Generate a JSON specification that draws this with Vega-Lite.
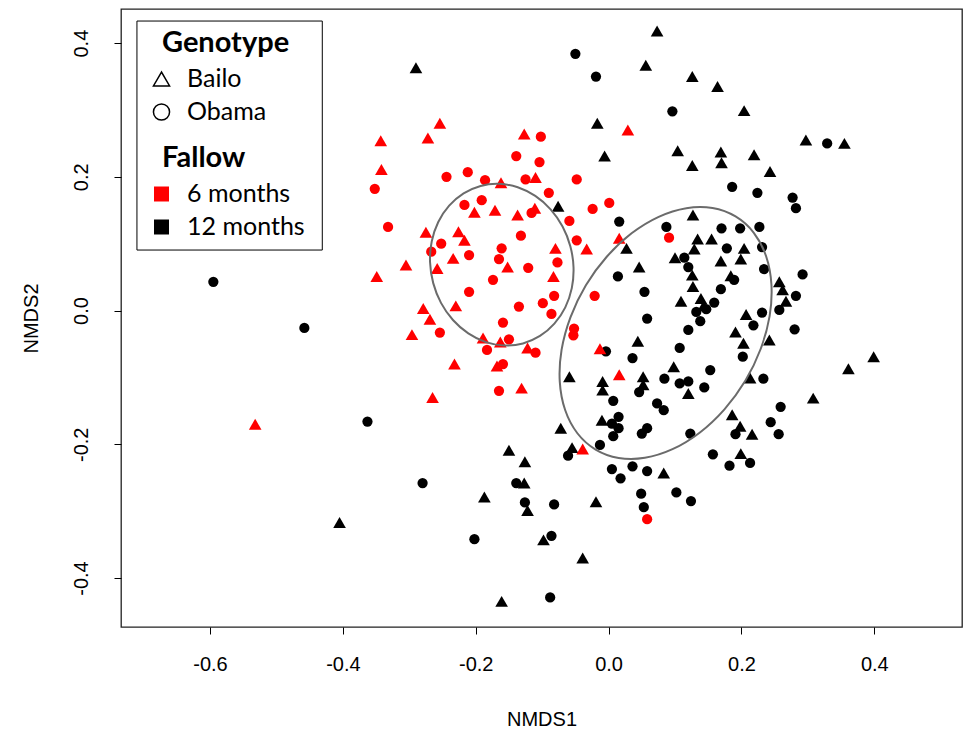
{
"$schema":"https://vega.github.io/schema/vega-lite/v6.json",
"width":841,"height":618,"autosize":"none",
"padding":{"left":121,"top":9,"right":2,"bottom":111},
"background":"white",
"config":{"view":{"stroke":"#222","strokeWidth":1.3},
"axis":{"domain":false,"grid":false,"tickColor":"black","tickSize":7,"tickWidth":1,"labelFont":"Liberation Sans","labelFontSize":20,"labelColor":"black","titleFont":"Liberation Sans","titleFontSize":20,"titleFontWeight":"normal","titleColor":"black","labelBound":false,"labelOverlap":false}},
"datasets":{
"pts":[
{"NMDS1":-0.290,"NMDS2":0.363,"Genotype":"Bailo","Fallow":"12 months"},{"NMDS1":0.073,"NMDS2":0.418,"Genotype":"Bailo","Fallow":"12 months"},{"NMDS1":0.056,"NMDS2":0.367,"Genotype":"Bailo","Fallow":"12 months"},{"NMDS1":0.126,"NMDS2":0.350,"Genotype":"Bailo","Fallow":"12 months"},{"NMDS1":0.164,"NMDS2":0.335,"Genotype":"Bailo","Fallow":"12 months"},{"NMDS1":0.204,"NMDS2":0.299,"Genotype":"Bailo","Fallow":"12 months"},{"NMDS1":-0.017,"NMDS2":0.280,"Genotype":"Bailo","Fallow":"12 months"},{"NMDS1":-0.006,"NMDS2":0.231,"Genotype":"Bailo","Fallow":"12 months"},{"NMDS1":0.104,"NMDS2":0.239,"Genotype":"Bailo","Fallow":"12 months"},{"NMDS1":0.169,"NMDS2":0.237,"Genotype":"Bailo","Fallow":"12 months"},{"NMDS1":0.126,"NMDS2":0.217,"Genotype":"Bailo","Fallow":"12 months"},{"NMDS1":0.170,"NMDS2":0.221,"Genotype":"Bailo","Fallow":"12 months"},{"NMDS1":0.219,"NMDS2":0.233,"Genotype":"Bailo","Fallow":"12 months"},{"NMDS1":0.243,"NMDS2":0.208,"Genotype":"Bailo","Fallow":"12 months"},{"NMDS1":0.297,"NMDS2":0.255,"Genotype":"Bailo","Fallow":"12 months"},{"NMDS1":0.355,"NMDS2":0.250,"Genotype":"Bailo","Fallow":"12 months"},{"NMDS1":-0.076,"NMDS2":0.156,"Genotype":"Bailo","Fallow":"12 months"},{"NMDS1":0.127,"NMDS2":0.143,"Genotype":"Bailo","Fallow":"12 months"},{"NMDS1":0.027,"NMDS2":0.093,"Genotype":"Bailo","Fallow":"12 months"},{"NMDS1":0.134,"NMDS2":0.107,"Genotype":"Bailo","Fallow":"12 months"},{"NMDS1":0.155,"NMDS2":0.107,"Genotype":"Bailo","Fallow":"12 months"},{"NMDS1":0.129,"NMDS2":0.092,"Genotype":"Bailo","Fallow":"12 months"},{"NMDS1":0.204,"NMDS2":0.093,"Genotype":"Bailo","Fallow":"12 months"},{"NMDS1":0.100,"NMDS2":0.079,"Genotype":"Bailo","Fallow":"12 months"},{"NMDS1":0.169,"NMDS2":0.074,"Genotype":"Bailo","Fallow":"12 months"},{"NMDS1":0.199,"NMDS2":0.077,"Genotype":"Bailo","Fallow":"12 months"},{"NMDS1":0.046,"NMDS2":0.065,"Genotype":"Bailo","Fallow":"12 months"},{"NMDS1":0.126,"NMDS2":0.053,"Genotype":"Bailo","Fallow":"12 months"},{"NMDS1":0.184,"NMDS2":0.052,"Genotype":"Bailo","Fallow":"12 months"},{"NMDS1":0.127,"NMDS2":0.036,"Genotype":"Bailo","Fallow":"12 months"},{"NMDS1":0.109,"NMDS2":0.014,"Genotype":"Bailo","Fallow":"12 months"},{"NMDS1":0.139,"NMDS2":0.018,"Genotype":"Bailo","Fallow":"12 months"},{"NMDS1":0.143,"NMDS2":0.007,"Genotype":"Bailo","Fallow":"12 months"},{"NMDS1":0.207,"NMDS2":-0.006,"Genotype":"Bailo","Fallow":"12 months"},{"NMDS1":0.191,"NMDS2":-0.032,"Genotype":"Bailo","Fallow":"12 months"},{"NMDS1":0.203,"NMDS2":-0.049,"Genotype":"Bailo","Fallow":"12 months"},{"NMDS1":0.044,"NMDS2":-0.046,"Genotype":"Bailo","Fallow":"12 months"},{"NMDS1":0.098,"NMDS2":-0.084,"Genotype":"Bailo","Fallow":"12 months"},{"NMDS1":-0.059,"NMDS2":-0.099,"Genotype":"Bailo","Fallow":"12 months"},{"NMDS1":0.052,"NMDS2":-0.099,"Genotype":"Bailo","Fallow":"12 months"},{"NMDS1":-0.009,"NMDS2":-0.106,"Genotype":"Bailo","Fallow":"12 months"},{"NMDS1":-0.009,"NMDS2":-0.119,"Genotype":"Bailo","Fallow":"12 months"},{"NMDS1":0.120,"NMDS2":-0.124,"Genotype":"Bailo","Fallow":"12 months"},{"NMDS1":0.052,"NMDS2":-0.111,"Genotype":"Bailo","Fallow":"12 months"},{"NMDS1":0.186,"NMDS2":-0.156,"Genotype":"Bailo","Fallow":"12 months"},{"NMDS1":-0.010,"NMDS2":-0.164,"Genotype":"Bailo","Fallow":"12 months"},{"NMDS1":-0.072,"NMDS2":-0.176,"Genotype":"Bailo","Fallow":"12 months"},{"NMDS1":0.198,"NMDS2":-0.173,"Genotype":"Bailo","Fallow":"12 months"},{"NMDS1":0.257,"NMDS2":0.043,"Genotype":"Bailo","Fallow":"12 months"},{"NMDS1":0.262,"NMDS2":0.031,"Genotype":"Bailo","Fallow":"12 months"},{"NMDS1":0.267,"NMDS2":0.014,"Genotype":"Bailo","Fallow":"12 months"},{"NMDS1":0.242,"NMDS2":-0.044,"Genotype":"Bailo","Fallow":"12 months"},{"NMDS1":0.399,"NMDS2":-0.069,"Genotype":"Bailo","Fallow":"12 months"},{"NMDS1":0.361,"NMDS2":-0.087,"Genotype":"Bailo","Fallow":"12 months"},{"NMDS1":0.213,"NMDS2":-0.101,"Genotype":"Bailo","Fallow":"12 months"},{"NMDS1":0.308,"NMDS2":-0.131,"Genotype":"Bailo","Fallow":"12 months"},{"NMDS1":0.216,"NMDS2":-0.185,"Genotype":"Bailo","Fallow":"12 months"},{"NMDS1":-0.055,"NMDS2":-0.205,"Genotype":"Bailo","Fallow":"12 months"},{"NMDS1":0.083,"NMDS2":-0.243,"Genotype":"Bailo","Fallow":"12 months"},{"NMDS1":0.199,"NMDS2":-0.214,"Genotype":"Bailo","Fallow":"12 months"},{"NMDS1":-0.019,"NMDS2":-0.286,"Genotype":"Bailo","Fallow":"12 months"},{"NMDS1":-0.098,"NMDS2":-0.343,"Genotype":"Bailo","Fallow":"12 months"},{"NMDS1":-0.039,"NMDS2":-0.370,"Genotype":"Bailo","Fallow":"12 months"},{"NMDS1":-0.150,"NMDS2":-0.209,"Genotype":"Bailo","Fallow":"12 months"},{"NMDS1":-0.126,"NMDS2":-0.226,"Genotype":"Bailo","Fallow":"12 months"},{"NMDS1":-0.127,"NMDS2":-0.258,"Genotype":"Bailo","Fallow":"12 months"},{"NMDS1":-0.187,"NMDS2":-0.279,"Genotype":"Bailo","Fallow":"12 months"},{"NMDS1":-0.122,"NMDS2":-0.299,"Genotype":"Bailo","Fallow":"12 months"},{"NMDS1":-0.405,"NMDS2":-0.317,"Genotype":"Bailo","Fallow":"12 months"},{"NMDS1":-0.161,"NMDS2":-0.435,"Genotype":"Bailo","Fallow":"12 months"},
{"NMDS1":-0.595,"NMDS2":0.043,"Genotype":"Obama","Fallow":"12 months"},{"NMDS1":-0.458,"NMDS2":-0.026,"Genotype":"Obama","Fallow":"12 months"},{"NMDS1":-0.363,"NMDS2":-0.166,"Genotype":"Obama","Fallow":"12 months"},{"NMDS1":-0.050,"NMDS2":0.384,"Genotype":"Obama","Fallow":"12 months"},{"NMDS1":-0.019,"NMDS2":0.350,"Genotype":"Obama","Fallow":"12 months"},{"NMDS1":0.096,"NMDS2":0.298,"Genotype":"Obama","Fallow":"12 months"},{"NMDS1":0.186,"NMDS2":0.185,"Genotype":"Obama","Fallow":"12 months"},{"NMDS1":0.329,"NMDS2":0.250,"Genotype":"Obama","Fallow":"12 months"},{"NMDS1":0.224,"NMDS2":0.176,"Genotype":"Obama","Fallow":"12 months"},{"NMDS1":0.277,"NMDS2":0.169,"Genotype":"Obama","Fallow":"12 months"},{"NMDS1":0.282,"NMDS2":0.153,"Genotype":"Obama","Fallow":"12 months"},{"NMDS1":0.016,"NMDS2":0.133,"Genotype":"Obama","Fallow":"12 months"},{"NMDS1":0.087,"NMDS2":0.125,"Genotype":"Obama","Fallow":"12 months"},{"NMDS1":0.170,"NMDS2":0.123,"Genotype":"Obama","Fallow":"12 months"},{"NMDS1":0.198,"NMDS2":0.123,"Genotype":"Obama","Fallow":"12 months"},{"NMDS1":0.178,"NMDS2":0.093,"Genotype":"Obama","Fallow":"12 months"},{"NMDS1":0.114,"NMDS2":0.079,"Genotype":"Obama","Fallow":"12 months"},{"NMDS1":0.120,"NMDS2":0.065,"Genotype":"Obama","Fallow":"12 months"},{"NMDS1":0.014,"NMDS2":0.051,"Genotype":"Obama","Fallow":"12 months"},{"NMDS1":0.189,"NMDS2":0.046,"Genotype":"Obama","Fallow":"12 months"},{"NMDS1":0.169,"NMDS2":0.032,"Genotype":"Obama","Fallow":"12 months"},{"NMDS1":0.054,"NMDS2":0.028,"Genotype":"Obama","Fallow":"12 months"},{"NMDS1":0.159,"NMDS2":0.012,"Genotype":"Obama","Fallow":"12 months"},{"NMDS1":0.132,"NMDS2":-0.002,"Genotype":"Obama","Fallow":"12 months"},{"NMDS1":0.147,"NMDS2":0.002,"Genotype":"Obama","Fallow":"12 months"},{"NMDS1":0.138,"NMDS2":-0.016,"Genotype":"Obama","Fallow":"12 months"},{"NMDS1":0.058,"NMDS2":-0.012,"Genotype":"Obama","Fallow":"12 months"},{"NMDS1":0.218,"NMDS2":-0.022,"Genotype":"Obama","Fallow":"12 months"},{"NMDS1":0.120,"NMDS2":-0.029,"Genotype":"Obama","Fallow":"12 months"},{"NMDS1":0.107,"NMDS2":-0.056,"Genotype":"Obama","Fallow":"12 months"},{"NMDS1":0.202,"NMDS2":-0.069,"Genotype":"Obama","Fallow":"12 months"},{"NMDS1":-0.004,"NMDS2":-0.061,"Genotype":"Obama","Fallow":"12 months"},{"NMDS1":0.036,"NMDS2":-0.071,"Genotype":"Obama","Fallow":"12 months"},{"NMDS1":0.153,"NMDS2":-0.089,"Genotype":"Obama","Fallow":"12 months"},{"NMDS1":0.084,"NMDS2":-0.102,"Genotype":"Obama","Fallow":"12 months"},{"NMDS1":0.107,"NMDS2":-0.109,"Genotype":"Obama","Fallow":"12 months"},{"NMDS1":0.120,"NMDS2":-0.106,"Genotype":"Obama","Fallow":"12 months"},{"NMDS1":0.144,"NMDS2":-0.115,"Genotype":"Obama","Fallow":"12 months"},{"NMDS1":0.046,"NMDS2":-0.122,"Genotype":"Obama","Fallow":"12 months"},{"NMDS1":0.007,"NMDS2":-0.135,"Genotype":"Obama","Fallow":"12 months"},{"NMDS1":0.073,"NMDS2":-0.139,"Genotype":"Obama","Fallow":"12 months"},{"NMDS1":0.083,"NMDS2":-0.149,"Genotype":"Obama","Fallow":"12 months"},{"NMDS1":0.015,"NMDS2":-0.159,"Genotype":"Obama","Fallow":"12 months"},{"NMDS1":0.227,"NMDS2":0.125,"Genotype":"Obama","Fallow":"12 months"},{"NMDS1":0.231,"NMDS2":0.095,"Genotype":"Obama","Fallow":"12 months"},{"NMDS1":0.234,"NMDS2":0.062,"Genotype":"Obama","Fallow":"12 months"},{"NMDS1":0.292,"NMDS2":0.054,"Genotype":"Obama","Fallow":"12 months"},{"NMDS1":0.282,"NMDS2":0.022,"Genotype":"Obama","Fallow":"12 months"},{"NMDS1":0.257,"NMDS2":0.001,"Genotype":"Obama","Fallow":"12 months"},{"NMDS1":0.231,"NMDS2":-0.003,"Genotype":"Obama","Fallow":"12 months"},{"NMDS1":0.280,"NMDS2":-0.028,"Genotype":"Obama","Fallow":"12 months"},{"NMDS1":0.233,"NMDS2":-0.102,"Genotype":"Obama","Fallow":"12 months"},{"NMDS1":0.259,"NMDS2":-0.144,"Genotype":"Obama","Fallow":"12 months"},{"NMDS1":0.244,"NMDS2":-0.167,"Genotype":"Obama","Fallow":"12 months"},{"NMDS1":0.256,"NMDS2":-0.185,"Genotype":"Obama","Fallow":"12 months"},{"NMDS1":0.005,"NMDS2":-0.169,"Genotype":"Obama","Fallow":"12 months"},{"NMDS1":0.015,"NMDS2":-0.176,"Genotype":"Obama","Fallow":"12 months"},{"NMDS1":0.007,"NMDS2":-0.188,"Genotype":"Obama","Fallow":"12 months"},{"NMDS1":0.050,"NMDS2":-0.184,"Genotype":"Obama","Fallow":"12 months"},{"NMDS1":0.058,"NMDS2":-0.176,"Genotype":"Obama","Fallow":"12 months"},{"NMDS1":0.123,"NMDS2":-0.184,"Genotype":"Obama","Fallow":"12 months"},{"NMDS1":0.191,"NMDS2":-0.185,"Genotype":"Obama","Fallow":"12 months"},{"NMDS1":-0.061,"NMDS2":-0.217,"Genotype":"Obama","Fallow":"12 months"},{"NMDS1":-0.013,"NMDS2":-0.201,"Genotype":"Obama","Fallow":"12 months"},{"NMDS1":0.005,"NMDS2":-0.237,"Genotype":"Obama","Fallow":"12 months"},{"NMDS1":0.018,"NMDS2":-0.251,"Genotype":"Obama","Fallow":"12 months"},{"NMDS1":0.036,"NMDS2":-0.233,"Genotype":"Obama","Fallow":"12 months"},{"NMDS1":0.058,"NMDS2":-0.240,"Genotype":"Obama","Fallow":"12 months"},{"NMDS1":0.157,"NMDS2":-0.215,"Genotype":"Obama","Fallow":"12 months"},{"NMDS1":0.182,"NMDS2":-0.232,"Genotype":"Obama","Fallow":"12 months"},{"NMDS1":0.213,"NMDS2":-0.228,"Genotype":"Obama","Fallow":"12 months"},{"NMDS1":0.049,"NMDS2":-0.274,"Genotype":"Obama","Fallow":"12 months"},{"NMDS1":0.053,"NMDS2":-0.294,"Genotype":"Obama","Fallow":"12 months"},{"NMDS1":0.102,"NMDS2":-0.272,"Genotype":"Obama","Fallow":"12 months"},{"NMDS1":0.124,"NMDS2":-0.285,"Genotype":"Obama","Fallow":"12 months"},{"NMDS1":-0.082,"NMDS2":-0.290,"Genotype":"Obama","Fallow":"12 months"},{"NMDS1":-0.086,"NMDS2":-0.337,"Genotype":"Obama","Fallow":"12 months"},{"NMDS1":-0.088,"NMDS2":-0.429,"Genotype":"Obama","Fallow":"12 months"},{"NMDS1":-0.139,"NMDS2":-0.258,"Genotype":"Obama","Fallow":"12 months"},{"NMDS1":-0.280,"NMDS2":-0.258,"Genotype":"Obama","Fallow":"12 months"},{"NMDS1":-0.126,"NMDS2":-0.287,"Genotype":"Obama","Fallow":"12 months"},{"NMDS1":-0.202,"NMDS2":-0.342,"Genotype":"Obama","Fallow":"12 months"},
{"NMDS1":-0.254,"NMDS2":0.280,"Genotype":"Bailo","Fallow":"6 months"},{"NMDS1":-0.343,"NMDS2":0.254,"Genotype":"Bailo","Fallow":"6 months"},{"NMDS1":-0.272,"NMDS2":0.258,"Genotype":"Bailo","Fallow":"6 months"},{"NMDS1":-0.342,"NMDS2":0.211,"Genotype":"Bailo","Fallow":"6 months"},{"NMDS1":-0.162,"NMDS2":0.191,"Genotype":"Bailo","Fallow":"6 months"},{"NMDS1":-0.127,"NMDS2":0.264,"Genotype":"Bailo","Fallow":"6 months"},{"NMDS1":-0.110,"NMDS2":0.199,"Genotype":"Bailo","Fallow":"6 months"},{"NMDS1":-0.202,"NMDS2":0.147,"Genotype":"Bailo","Fallow":"6 months"},{"NMDS1":-0.171,"NMDS2":0.150,"Genotype":"Bailo","Fallow":"6 months"},{"NMDS1":-0.137,"NMDS2":0.143,"Genotype":"Bailo","Fallow":"6 months"},{"NMDS1":-0.111,"NMDS2":0.153,"Genotype":"Bailo","Fallow":"6 months"},{"NMDS1":0.029,"NMDS2":0.270,"Genotype":"Bailo","Fallow":"6 months"},{"NMDS1":-0.275,"NMDS2":0.117,"Genotype":"Bailo","Fallow":"6 months"},{"NMDS1":-0.226,"NMDS2":0.118,"Genotype":"Bailo","Fallow":"6 months"},{"NMDS1":-0.217,"NMDS2":0.105,"Genotype":"Bailo","Fallow":"6 months"},{"NMDS1":-0.305,"NMDS2":0.068,"Genotype":"Bailo","Fallow":"6 months"},{"NMDS1":-0.234,"NMDS2":0.078,"Genotype":"Bailo","Fallow":"6 months"},{"NMDS1":-0.258,"NMDS2":0.063,"Genotype":"Bailo","Fallow":"6 months"},{"NMDS1":-0.349,"NMDS2":0.051,"Genotype":"Bailo","Fallow":"6 months"},{"NMDS1":-0.152,"NMDS2":0.065,"Genotype":"Bailo","Fallow":"6 months"},{"NMDS1":-0.230,"NMDS2":0.007,"Genotype":"Bailo","Fallow":"6 months"},{"NMDS1":-0.279,"NMDS2":0.003,"Genotype":"Bailo","Fallow":"6 months"},{"NMDS1":-0.269,"NMDS2":-0.013,"Genotype":"Bailo","Fallow":"6 months"},{"NMDS1":-0.296,"NMDS2":-0.036,"Genotype":"Bailo","Fallow":"6 months"},{"NMDS1":-0.189,"NMDS2":-0.041,"Genotype":"Bailo","Fallow":"6 months"},{"NMDS1":-0.163,"NMDS2":-0.047,"Genotype":"Bailo","Fallow":"6 months"},{"NMDS1":-0.122,"NMDS2":-0.056,"Genotype":"Bailo","Fallow":"6 months"},{"NMDS1":-0.232,"NMDS2":-0.080,"Genotype":"Bailo","Fallow":"6 months"},{"NMDS1":-0.168,"NMDS2":-0.083,"Genotype":"Bailo","Fallow":"6 months"},{"NMDS1":-0.131,"NMDS2":-0.116,"Genotype":"Bailo","Fallow":"6 months"},{"NMDS1":-0.265,"NMDS2":-0.130,"Genotype":"Bailo","Fallow":"6 months"},{"NMDS1":-0.532,"NMDS2":-0.170,"Genotype":"Bailo","Fallow":"6 months"},{"NMDS1":0.016,"NMDS2":0.108,"Genotype":"Bailo","Fallow":"6 months"},{"NMDS1":-0.033,"NMDS2":0.092,"Genotype":"Bailo","Fallow":"6 months"},{"NMDS1":-0.080,"NMDS2":0.093,"Genotype":"Bailo","Fallow":"6 months"},{"NMDS1":-0.083,"NMDS2":0.051,"Genotype":"Bailo","Fallow":"6 months"},{"NMDS1":-0.013,"NMDS2":-0.057,"Genotype":"Bailo","Fallow":"6 months"},{"NMDS1":0.016,"NMDS2":-0.096,"Genotype":"Bailo","Fallow":"6 months"},{"NMDS1":-0.039,"NMDS2":-0.207,"Genotype":"Bailo","Fallow":"6 months"},
{"NMDS1":-0.352,"NMDS2":0.182,"Genotype":"Obama","Fallow":"6 months"},{"NMDS1":-0.244,"NMDS2":0.200,"Genotype":"Obama","Fallow":"6 months"},{"NMDS1":-0.212,"NMDS2":0.207,"Genotype":"Obama","Fallow":"6 months"},{"NMDS1":-0.186,"NMDS2":0.195,"Genotype":"Obama","Fallow":"6 months"},{"NMDS1":-0.102,"NMDS2":0.260,"Genotype":"Obama","Fallow":"6 months"},{"NMDS1":-0.139,"NMDS2":0.231,"Genotype":"Obama","Fallow":"6 months"},{"NMDS1":-0.104,"NMDS2":0.222,"Genotype":"Obama","Fallow":"6 months"},{"NMDS1":-0.125,"NMDS2":0.196,"Genotype":"Obama","Fallow":"6 months"},{"NMDS1":-0.217,"NMDS2":0.158,"Genotype":"Obama","Fallow":"6 months"},{"NMDS1":-0.191,"NMDS2":0.165,"Genotype":"Obama","Fallow":"6 months"},{"NMDS1":-0.116,"NMDS2":0.146,"Genotype":"Obama","Fallow":"6 months"},{"NMDS1":-0.048,"NMDS2":0.196,"Genotype":"Obama","Fallow":"6 months"},{"NMDS1":-0.090,"NMDS2":0.176,"Genotype":"Obama","Fallow":"6 months"},{"NMDS1":-0.024,"NMDS2":0.152,"Genotype":"Obama","Fallow":"6 months"},{"NMDS1":0.001,"NMDS2":0.161,"Genotype":"Obama","Fallow":"6 months"},{"NMDS1":-0.059,"NMDS2":0.134,"Genotype":"Obama","Fallow":"6 months"},{"NMDS1":-0.332,"NMDS2":0.125,"Genotype":"Obama","Fallow":"6 months"},{"NMDS1":-0.252,"NMDS2":0.100,"Genotype":"Obama","Fallow":"6 months"},{"NMDS1":-0.267,"NMDS2":0.088,"Genotype":"Obama","Fallow":"6 months"},{"NMDS1":-0.210,"NMDS2":0.083,"Genotype":"Obama","Fallow":"6 months"},{"NMDS1":-0.132,"NMDS2":0.112,"Genotype":"Obama","Fallow":"6 months"},{"NMDS1":-0.161,"NMDS2":0.093,"Genotype":"Obama","Fallow":"6 months"},{"NMDS1":-0.165,"NMDS2":0.077,"Genotype":"Obama","Fallow":"6 months"},{"NMDS1":-0.121,"NMDS2":0.064,"Genotype":"Obama","Fallow":"6 months"},{"NMDS1":-0.174,"NMDS2":0.046,"Genotype":"Obama","Fallow":"6 months"},{"NMDS1":-0.210,"NMDS2":0.028,"Genotype":"Obama","Fallow":"6 months"},{"NMDS1":-0.135,"NMDS2":0.006,"Genotype":"Obama","Fallow":"6 months"},{"NMDS1":-0.099,"NMDS2":0.011,"Genotype":"Obama","Fallow":"6 months"},{"NMDS1":-0.159,"NMDS2":-0.018,"Genotype":"Obama","Fallow":"6 months"},{"NMDS1":-0.254,"NMDS2":-0.033,"Genotype":"Obama","Fallow":"6 months"},{"NMDS1":-0.150,"NMDS2":-0.043,"Genotype":"Obama","Fallow":"6 months"},{"NMDS1":-0.183,"NMDS2":-0.059,"Genotype":"Obama","Fallow":"6 months"},{"NMDS1":-0.110,"NMDS2":-0.063,"Genotype":"Obama","Fallow":"6 months"},{"NMDS1":-0.159,"NMDS2":-0.080,"Genotype":"Obama","Fallow":"6 months"},{"NMDS1":-0.165,"NMDS2":-0.120,"Genotype":"Obama","Fallow":"6 months"},{"NMDS1":0.091,"NMDS2":0.109,"Genotype":"Obama","Fallow":"6 months"},{"NMDS1":-0.048,"NMDS2":0.105,"Genotype":"Obama","Fallow":"6 months"},{"NMDS1":-0.077,"NMDS2":0.072,"Genotype":"Obama","Fallow":"6 months"},{"NMDS1":-0.082,"NMDS2":0.022,"Genotype":"Obama","Fallow":"6 months"},{"NMDS1":-0.086,"NMDS2":-0.005,"Genotype":"Obama","Fallow":"6 months"},{"NMDS1":-0.021,"NMDS2":0.022,"Genotype":"Obama","Fallow":"6 months"},{"NMDS1":-0.052,"NMDS2":-0.027,"Genotype":"Obama","Fallow":"6 months"},{"NMDS1":-0.053,"NMDS2":-0.037,"Genotype":"Obama","Fallow":"6 months"},{"NMDS1":0.058,"NMDS2":-0.312,"Genotype":"Obama","Fallow":"6 months"}
],
"ell":[
{"group":"6 months","i":0,"NMDS1":-0.1289,"NMDS2":-0.0492},{"group":"6 months","i":1,"NMDS1":-0.1033,"NMDS2":-0.0380},{"group":"6 months","i":2,"NMDS1":-0.0816,"NMDS2":-0.0196},{"group":"6 months","i":3,"NMDS1":-0.0652,"NMDS2":0.0048},{"group":"6 months","i":4,"NMDS1":-0.0554,"NMDS2":0.0336},{"group":"6 months","i":5,"NMDS1":-0.0528,"NMDS2":0.0648},{"group":"6 months","i":6,"NMDS1":-0.0576,"NMDS2":0.0962},{"group":"6 months","i":7,"NMDS1":-0.0693,"NMDS2":0.1257},{"group":"6 months","i":8,"NMDS1":-0.0873,"NMDS2":0.1514},{"group":"6 months","i":9,"NMDS1":-0.1104,"NMDS2":0.1714},{"group":"6 months","i":10,"NMDS1":-0.1368,"NMDS2":0.1844},{"group":"6 months","i":11,"NMDS1":-0.1649,"NMDS2":0.1895},{"group":"6 months","i":12,"NMDS1":-0.1927,"NMDS2":0.1864},{"group":"6 months","i":13,"NMDS1":-0.2183,"NMDS2":0.1752},{"group":"6 months","i":14,"NMDS1":-0.2400,"NMDS2":0.1568},{"group":"6 months","i":15,"NMDS1":-0.2564,"NMDS2":0.1324},{"group":"6 months","i":16,"NMDS1":-0.2662,"NMDS2":0.1036},{"group":"6 months","i":17,"NMDS1":-0.2688,"NMDS2":0.0725},{"group":"6 months","i":18,"NMDS1":-0.2640,"NMDS2":0.0410},{"group":"6 months","i":19,"NMDS1":-0.2523,"NMDS2":0.0115},{"group":"6 months","i":20,"NMDS1":-0.2343,"NMDS2":-0.0142},{"group":"6 months","i":21,"NMDS1":-0.2112,"NMDS2":-0.0342},{"group":"6 months","i":22,"NMDS1":-0.1848,"NMDS2":-0.0472},{"group":"6 months","i":23,"NMDS1":-0.1567,"NMDS2":-0.0523},
{"group":"12 months","i":0,"NMDS1":0.1911,"NMDS2":0.1407},{"group":"12 months","i":1,"NMDS1":0.1565,"NMDS2":0.1533},{"group":"12 months","i":2,"NMDS1":0.1170,"NMDS2":0.1531},{"group":"12 months","i":3,"NMDS1":0.0754,"NMDS2":0.1402},{"group":"12 months","i":4,"NMDS1":0.0346,"NMDS2":0.1155},{"group":"12 months","i":5,"NMDS1":-0.0028,"NMDS2":0.0805},{"group":"12 months","i":6,"NMDS1":-0.0342,"NMDS2":0.0379},{"group":"12 months","i":7,"NMDS1":-0.0573,"NMDS2":-0.0097},{"group":"12 months","i":8,"NMDS1":-0.0708,"NMDS2":-0.0589},{"group":"12 months","i":9,"NMDS1":-0.0735,"NMDS2":-0.1063},{"group":"12 months","i":10,"NMDS1":-0.0654,"NMDS2":-0.1488},{"group":"12 months","i":11,"NMDS1":-0.0470,"NMDS2":-0.1835},{"group":"12 months","i":12,"NMDS1":-0.0195,"NMDS2":-0.2079},{"group":"12 months","i":13,"NMDS1":0.0151,"NMDS2":-0.2205},{"group":"12 months","i":14,"NMDS1":0.0546,"NMDS2":-0.2203},{"group":"12 months","i":15,"NMDS1":0.0962,"NMDS2":-0.2074},{"group":"12 months","i":16,"NMDS1":0.1370,"NMDS2":-0.1827},{"group":"12 months","i":17,"NMDS1":0.1744,"NMDS2":-0.1477},{"group":"12 months","i":18,"NMDS1":0.2058,"NMDS2":-0.1051},{"group":"12 months","i":19,"NMDS1":0.2289,"NMDS2":-0.0575},{"group":"12 months","i":20,"NMDS1":0.2424,"NMDS2":-0.0083},{"group":"12 months","i":21,"NMDS1":0.2451,"NMDS2":0.0391},{"group":"12 months","i":22,"NMDS1":0.2370,"NMDS2":0.0816},{"group":"12 months","i":23,"NMDS1":0.2186,"NMDS2":0.1163}
]},
"layer":[
{"data":{"name":"pts"},
"mark":{"type":"point","filled":true,"opacity":1,"strokeWidth":0},
"encoding":{
"x":{"field":"NMDS1","type":"quantitative","scale":{"domain":[-0.734,0.532],"nice":false,"zero":false},"axis":{"values":[-0.6,-0.4,-0.2,0,0.2,0.4],"labelExpr":"replace(format(datum.value, '.1f'), '\u2212', '-')","title":"NMDS1","labelPadding":20,"titlePadding":35,"labelFlush":false}},
"y":{"field":"NMDS2","type":"quantitative","scale":{"domain":[-0.4733,0.451],"nice":false,"zero":false},"axis":{"values":[-0.4,-0.2,0,0.2,0.4],"labelExpr":"replace(format(datum.value, '.1f'), '\u2212', '-')","title":"NMDS2","labelAngle":270,"labelAlign":"center","labelBaseline":"bottom","labelPadding":23,"titlePadding":30,"labelFlush":false}},
"color":{"field":"Fallow","type":"nominal","scale":{"domain":["6 months","12 months"],"range":["#ff0000","#000000"]},
"legend":{"title":"Fallow","orient":"none","legendX":41,"legendY":134.5,"padding":0,"titleFont":"Lato","titleFontSize":29,"titleFontWeight":"bold","titleColor":"black","titlePadding":9,"labelFont":"Lato","labelFontSize":25,"labelColor":"black","labelOffset":13,"symbolOffset":-13,"symbolType":"square","symbolSize":225,"symbolStrokeWidth":0,"rowPadding":7}},
"shape":{"field":"Genotype","type":"nominal","scale":{"domain":["Bailo","Obama"],"range":["triangle-up","circle"]},
"legend":{"title":"Genotype","orient":"none","legendX":41,"legendY":19.5,"padding":0,"titleFont":"Lato","titleFontSize":29,"titleFontWeight":"bold","titleColor":"black","titlePadding":9,"labelFont":"Lato","labelFontSize":25,"labelColor":"black","labelOffset":13,"symbolOffset":-13,"symbolSize":260,"symbolFillColor":"transparent","symbolStrokeColor":"black","symbolStrokeWidth":1.5,"rowPadding":7}},
"size":{"condition":{"test":"datum.Genotype === 'Bailo'","value":160},"value":105}
}},
{"data":{"name":"ell"},
"mark":{"type":"line","interpolate":"cardinal-closed","stroke":"#6b6b6b","strokeWidth":2},
"encoding":{"x":{"field":"NMDS1","type":"quantitative"},"y":{"field":"NMDS2","type":"quantitative"},"detail":{"field":"group"},"order":{"field":"i"}}},
{"data":{"values":[{}]},
"mark":{"type":"rect","fill":"white","stroke":"black","strokeWidth":1},
"encoding":{"x":{"datum":-0.710},"x2":{"datum":-0.431},"y":{"datum":0.433},"y2":{"datum":0.0905}}}
]
}
